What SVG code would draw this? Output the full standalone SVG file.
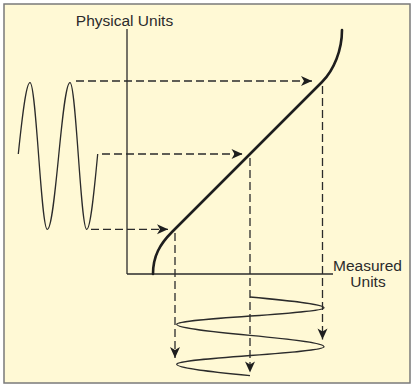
<svg xmlns="http://www.w3.org/2000/svg" width="413" height="387" viewBox="0 0 413 387">
  <style>
    .frame { fill: #FFF9D5; stroke: #7A7A7A; stroke-width: 1.5; }
    .axis { fill: none; stroke: #2B2B2B; stroke-width: 1.3; }
    .curve { fill: none; stroke: #1E1E1E; stroke-width: 2.6; stroke-linecap: round; }
    .wave { fill: none; stroke: #2B2B2B; stroke-width: 1.3; }
    .dash { fill: none; stroke: #2B2B2B; stroke-width: 1.3; stroke-dasharray: 8 4; marker-end: url(#arrow); }
    .label { font-family: "Liberation Sans", Arial, sans-serif; font-size: 15.5px; fill: #2B2B2B; }
  </style>
  <defs>
    <marker id="arrow" markerUnits="userSpaceOnUse" markerWidth="14" markerHeight="12" viewBox="-12 -6 13 12" refX="0" refY="0" orient="auto">
      <path d="M0,0 L-11,-5 L-8,0 L-11,5 Z" fill="#1E1E1E" stroke="none"/>
    </marker>
  </defs>

  <rect class="frame" x="4" y="4" width="406" height="379"/>

  <g id="axes">
    <line class="axis" x1="127" y1="29" x2="127" y2="274"/>
    <line class="axis" x1="127" y1="274" x2="333" y2="274"/>
  </g>

  <g id="transfer-curve">
    <path class="curve" d="M153,274 C153,256 160,244 172,232 L322,82 C334,70 342,50 342,30"/>
  </g>

  <g id="input-wave">
    <path class="wave" d="M18.3,154 C22.2,116.7 26.1,82.7 30,82.7 C36.3,82.7 41,229.3 47.3,229.3 C55.6,229.3 61.7,82.7 70,82.7 C76.1,82.7 80.6,229.3 86.7,229.3 C90.4,229.3 94,193.4 97.7,154"/>
  </g>

  <g id="output-wave">
    <path class="wave" d="M250,297 C288.7,300.6 324,304.1 324,307.7 C324,313.7 176.7,318.3 176.7,324.3 C176.7,332.4 324,338.5 324,346.7 C324,353.1 176.7,357.9 176.7,364.3 C176.7,368.1 211.6,371.9 250,375.7"/>
  </g>

  <g id="connectors">
    <line class="dash" x1="76" y1="81" x2="312" y2="81"/>
    <line class="dash" x1="102" y1="154" x2="242.5" y2="154"/>
    <line class="dash" x1="91" y1="229.3" x2="168" y2="229.3"/>
    <line class="dash" x1="322.5" y1="86" x2="322.5" y2="339.5"/>
    <line class="dash" x1="250" y1="158" x2="250" y2="372.5"/>
    <line class="dash" x1="175" y1="233" x2="175" y2="358"/>
  </g>

  <g id="labels">
    <text class="label" x="124.5" y="26" text-anchor="middle">Physical Units</text>
    <text class="label" x="367.5" y="271" text-anchor="middle">Measured</text>
    <text class="label" x="368" y="287" text-anchor="middle">Units</text>
  </g>
</svg>
